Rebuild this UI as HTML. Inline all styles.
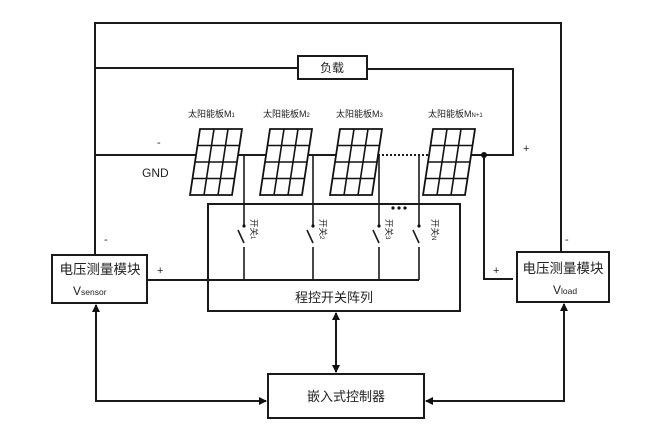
<!DOCTYPE html>
<html><head><meta charset="utf-8"><style>
body{margin:0;background:#fff;}
svg{display:block;}
text{font-family:"Liberation Sans","Noto Sans CJK SC",sans-serif;fill:#222;}
</style></head><body>
<svg width="669" height="443" viewBox="0 0 669 443" xmlns="http://www.w3.org/2000/svg">
<defs>
<g id="pn">
<rect x="0" y="0" width="42" height="66" fill="#fff" stroke="#111" stroke-width="1.8"/>
<line x1="14" y1="0" x2="14" y2="66" stroke="#111" stroke-width="1.6"/>
<line x1="28" y1="0" x2="28" y2="66" stroke="#111" stroke-width="1.6"/>
<line x1="0" y1="16.5" x2="42" y2="16.5" stroke="#111" stroke-width="1.6"/>
<line x1="0" y1="33" x2="42" y2="33" stroke="#111" stroke-width="1.6"/>
<line x1="0" y1="49.5" x2="42" y2="49.5" stroke="#111" stroke-width="1.6"/>
</g>
<marker id="ar" markerWidth="8" markerHeight="8" refX="7" refY="4" orient="auto" markerUnits="userSpaceOnUse">
<path d="M0,0 L8,4 L0,8 z" fill="#111"/></marker>
<marker id="ars" markerWidth="8" markerHeight="8" refX="1" refY="4" orient="auto" markerUnits="userSpaceOnUse">
<path d="M8,0 L0,4 L8,8 z" fill="#111"/></marker>
</defs>
<g fill="none" stroke="#1a1a1a" stroke-width="2">
<polyline points="95,255 95,23 561,23 561,252"/>
<polyline points="95,68 298,68"/>
<polyline points="367,69 513,69 513,155 471,155"/>
<line x1="95" y1="155" x2="197" y2="155"/>
<line x1="238" y1="155" x2="267" y2="155"/>
<line x1="308" y1="155" x2="337" y2="155"/>
<line x1="378" y1="155" x2="430" y2="155" stroke-dasharray="2,2"/>
<polyline points="484,155 484,279 513,279"/>
<line x1="147" y1="280" x2="419" y2="280"/>
<rect x="208" y="204" width="252" height="107"/>
<g stroke-width="1.6">
<line x1="244" y1="155" x2="244" y2="226"/><line x1="238" y1="230" x2="244" y2="243"/><line x1="244" y1="247" x2="244" y2="280"/>
<line x1="313" y1="155" x2="313" y2="226"/><line x1="307" y1="230" x2="313" y2="243"/><line x1="313" y1="247" x2="313" y2="280"/>
<line x1="379" y1="155" x2="379" y2="226"/><line x1="373" y1="230" x2="379" y2="243"/><line x1="379" y1="247" x2="379" y2="280"/>
<line x1="419" y1="155" x2="419" y2="226"/><line x1="413" y1="230" x2="419" y2="243"/><line x1="419" y1="247" x2="419" y2="280"/>
</g>
<rect x="298" y="56" width="69" height="23" fill="#fff"/>
<rect x="52" y="255" width="95" height="48" fill="#fff"/>
<rect x="517" y="252" width="92" height="50" fill="#fff"/>
<rect x="268" y="374" width="156" height="44" fill="#fff"/>
<polyline points="96,305 96,401 266,401" marker-start="url(#ars)" marker-end="url(#ar)"/>
<polyline points="564,304 564,401 426,401" marker-start="url(#ars)" marker-end="url(#ar)"/>
<line x1="336" y1="313" x2="336" y2="372" marker-start="url(#ars)" marker-end="url(#ar)"/>
</g>
<g fill="#111">
<circle cx="244" cy="226" r="1.6"/><circle cx="313" cy="226" r="1.6"/><circle cx="379" cy="226" r="1.6"/><circle cx="419" cy="226" r="1.6"/>
<circle cx="484" cy="155" r="3"/>
<circle cx="393" cy="208" r="1.6"/><circle cx="399" cy="208" r="1.6"/><circle cx="405" cy="208" r="1.6"/>
</g>
<use href="#pn" transform="translate(200,129) skewX(-8.6)"/>
<use href="#pn" transform="translate(270,129) skewX(-8.6)"/>
<use href="#pn" transform="translate(340,129) skewX(-8.6)"/>
<use href="#pn" transform="translate(433,129) skewX(-8.6)"/>
<g font-size="9">
<text x="188" y="117">太阳能板M<tspan font-size="6">1</tspan></text>
<text x="263" y="117">太阳能板M<tspan font-size="6">2</tspan></text>
<text x="336" y="117">太阳能板M<tspan font-size="6">3</tspan></text>
<text x="428" y="117">太阳能板M<tspan font-size="6">N+1</tspan></text>
</g>
<g font-size="8.5">
<text transform="translate(251,219) rotate(90)">开关<tspan font-size="6">1</tspan></text>
<text transform="translate(320,219) rotate(90)">开关<tspan font-size="6">2</tspan></text>
<text transform="translate(386,219) rotate(90)">开关<tspan font-size="6">3</tspan></text>
<text transform="translate(432,219) rotate(90)">开关<tspan font-size="6">N</tspan></text>
</g>
<text x="332" y="72" font-size="12" text-anchor="middle">负载</text>
<text x="334" y="302" font-size="13" text-anchor="middle">程控开关阵列</text>
<text x="346" y="401" font-size="13" text-anchor="middle">嵌入式控制器</text>
<text x="100" y="274" font-size="13.5" text-anchor="middle">电压测量模块</text>
<text x="73" y="295" font-size="12">V<tspan font-size="8.5">sensor</tspan></text>
<text x="563" y="273" font-size="13.5" text-anchor="middle">电压测量模块</text>
<text x="553" y="294" font-size="12">V<tspan font-size="8.5">load</tspan></text>
<text x="142" y="177" font-size="12">GND</text>
<g font-size="11">
<text x="157" y="146">-</text>
<text x="104" y="243">-</text>
<text x="157" y="274">+</text>
<text x="523" y="152">+</text>
<text x="493" y="274">+</text>
<text x="565" y="243">-</text>
</g>
</svg>
</body></html>
